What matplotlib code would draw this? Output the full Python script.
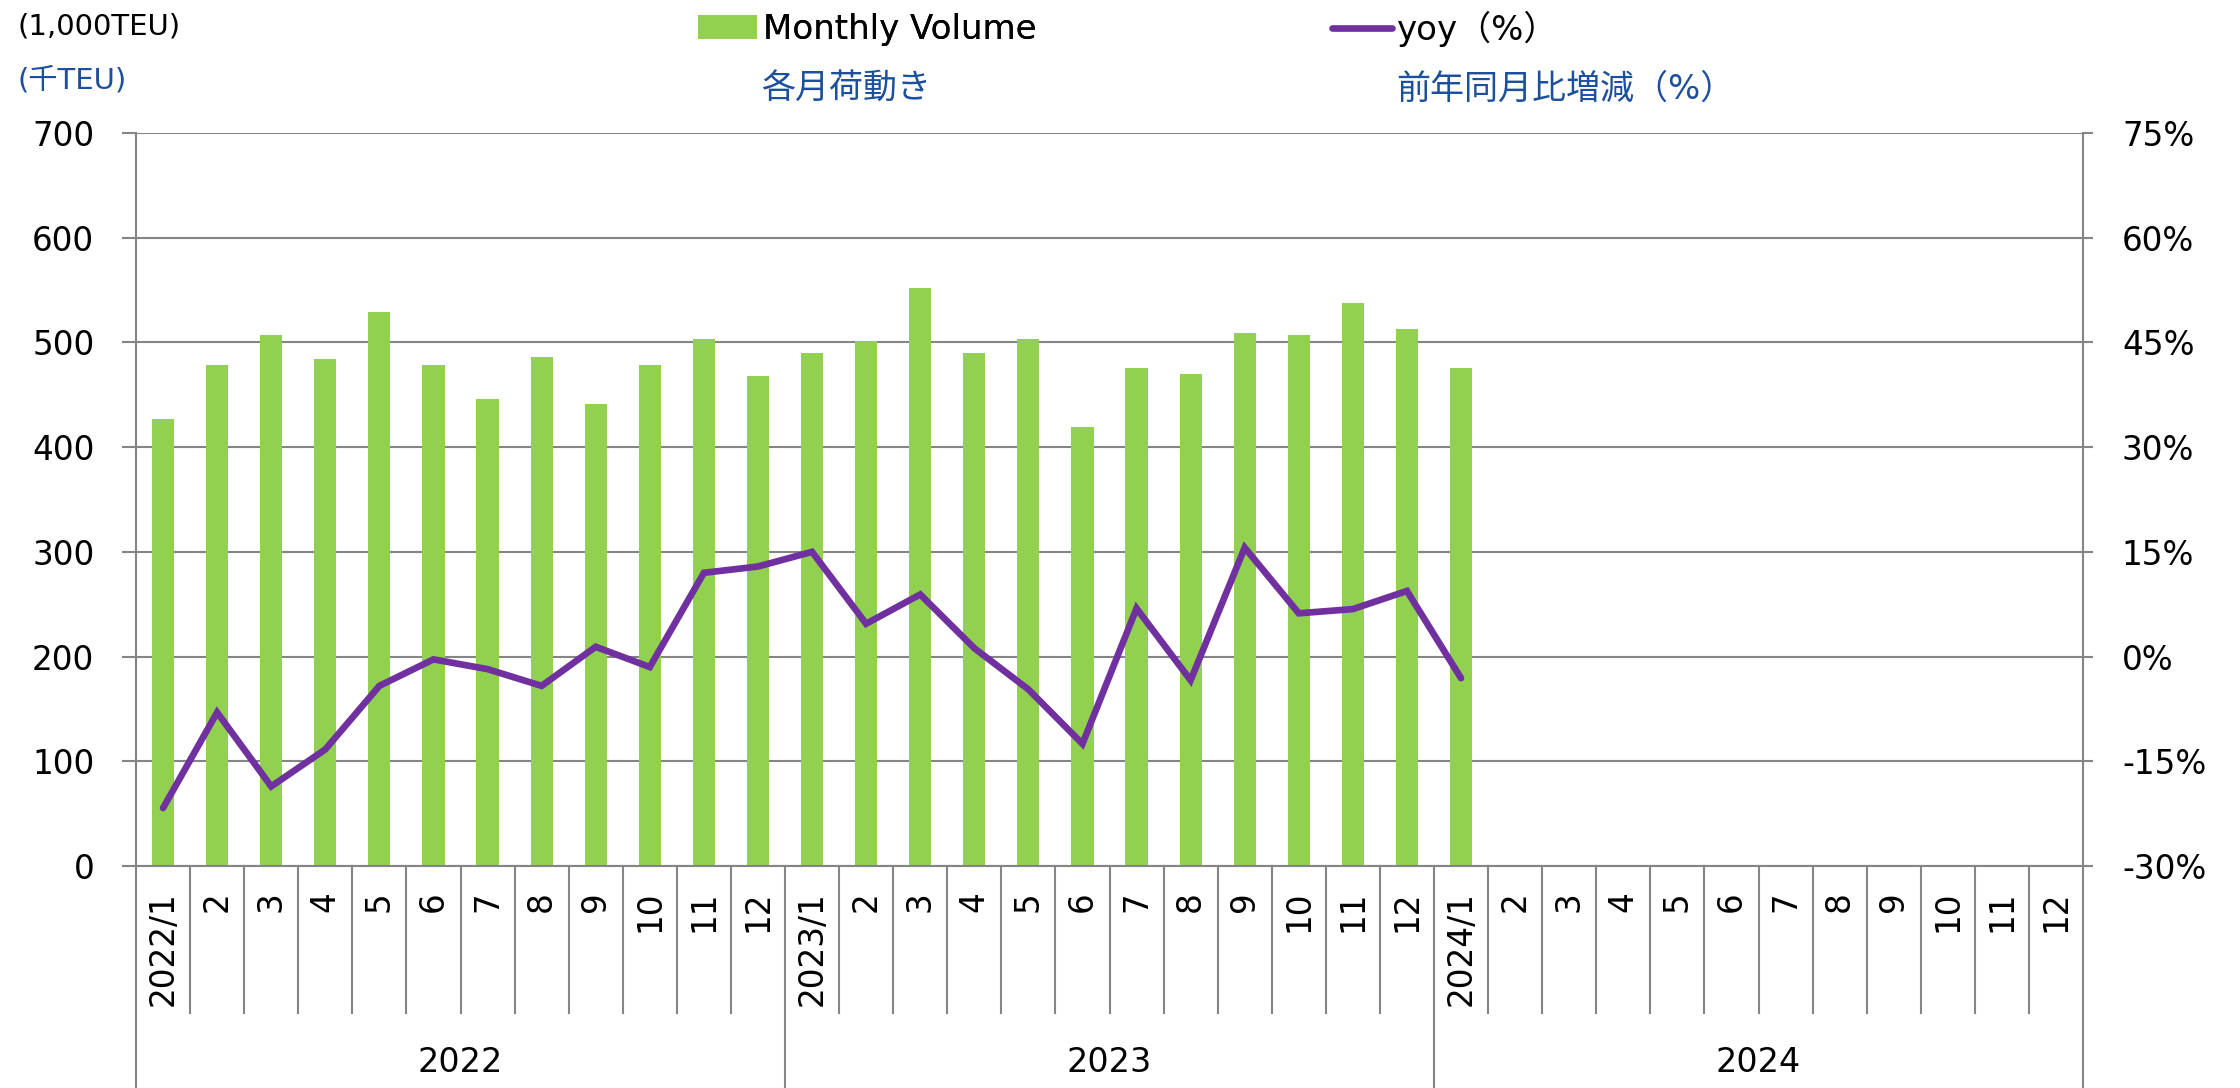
import numpy as np
import matplotlib
matplotlib.use('Agg')
import matplotlib.pyplot as plt
from matplotlib.ticker import FuncFormatter
from matplotlib.transforms import blended_transform_factory

plt.rcParams['font.family'] = ['DejaVu Sans', 'Noto Sans CJK JP']

years = ['2022', '2023', '2024']
month_labels = []
for y in years:
    month_labels += [y + '/1'] + [str(m) for m in range(2, 13)]

# monthly volume (1,000 TEU), 2022/1 .. 2024/1
volume = [427, 478, 507, 484, 529, 478, 446, 486, 441, 478, 503, 468,
          490, 501, 552, 490, 503, 419, 476, 470, 509, 507, 538, 513,
          476]
# yoy change (%)
yoy = [-21.7, -8.0, -18.6, -13.3, -4.2, -0.4, -1.8, -4.2, 1.4, -1.5, 12.0, 12.9,
       15.0, 4.7, 8.9, 1.2, -4.7, -12.5, 6.9, -3.4, 15.6, 6.2, 6.8, 9.4,
       -3.1]

green = '#92D050'
purple = '#7030A0'
grid_c = '#858585'
blue = '#1c4f9c'

W, H = 2240, 1088
fig = plt.figure(figsize=(W/100, H/100), dpi=100)
x0, x1, y0, y1 = 136, 2083, 133, 866
ax = fig.add_axes([x0/W, 1-y1/H, (x1-x0)/W, (y1-y0)/H])

n = len(month_labels)
x = np.arange(len(volume))
bars = ax.bar(x, volume, width=0.41, color=green, zorder=2)

ax.set_xlim(-0.5, n-0.5)
ax.set_ylim(0, 700)
ax.set_yticks(np.arange(0, 701, 100))
ax.grid(axis='y', color=grid_c, lw=1.5)
ax.set_axisbelow(True)
ax.tick_params(axis='y', length=10, width=1.5, color=grid_c, pad=20, labelsize=23.5)
for s in ['left', 'bottom', 'right']:
    ax.spines[s].set_color(grid_c)
    ax.spines[s].set_linewidth(1.5)
ax.spines['top'].set_visible(False)

ax.set_xticks(np.arange(n))
ax.set_xticklabels(month_labels, rotation=90, va='top', fontsize=23.5)
ax.tick_params(axis='x', length=0, pad=18)

ax2 = ax.twinx()
ax2.plot(x, yoy, color=purple, lw=4.8, solid_capstyle='round', solid_joinstyle='miter', zorder=3)
ax2.set_ylim(-30, 75)
ax2.set_yticks(np.arange(-30, 76, 15))
ax2.yaxis.set_major_formatter(FuncFormatter(lambda v, p: f'{v:.0f}%'))
ax2.tick_params(axis='y', length=7, width=1.5, color=grid_c, pad=21, labelsize=23.5)
for s in ['left', 'bottom', 'right', 'top']:
    ax2.spines[s].set_visible(False)

# category separators below the axis
tr = blended_transform_factory(ax.transData, ax.transAxes)
ah = y1 - y0
short = -(1013 - y1) / ah
long = -(H - y1) / ah
for k in range(n + 1):
    yb = long if k % 12 == 0 else short
    ax.plot([k-0.5, k-0.5], [0, yb], color=grid_c, lw=1.5, transform=tr, clip_on=False)
for i, y in enumerate(years):
    ax.text(12*i + 5.5, -(1062 - y1) / ah, y, transform=tr, ha='center', va='center', fontsize=24)

# legend
leg1 = fig.legend(handles=[bars], labels=['Monthly Volume'], loc='center left',
                  bbox_to_anchor=(698/W, 1-29/H), frameon=False, fontsize=24.5,
                  handlelength=1.74, handleheight=0.7, handletextpad=0.18,
                  borderpad=0, borderaxespad=0)
fig.add_artist(leg1)
line = ax2.get_lines()[0]
fig.legend(handles=[line], labels=['yoy（%）'], loc='center left',
           bbox_to_anchor=(1332/W, 1-29/H), frameon=False, fontsize=24.5,
           handlelength=1.76, handletextpad=0.15, borderpad=0, borderaxespad=0)

fig.text(17/W, 1-26/H, '(1,000TEU)', fontsize=21, va='center', ha='left')
fig.text(17/W, 1-80/H, '(千TEU)', fontsize=21, va='center', ha='left', color=blue)
fig.text(761/W, 1-89/H, '各月荷動き', fontsize=24.5, va='center', ha='left', color=blue)
fig.text(1396/W, 1-89/H, '前年同月比増減（%）', fontsize=24.5, va='center', ha='left', color=blue)

fig.savefig('out.png', dpi=100)
